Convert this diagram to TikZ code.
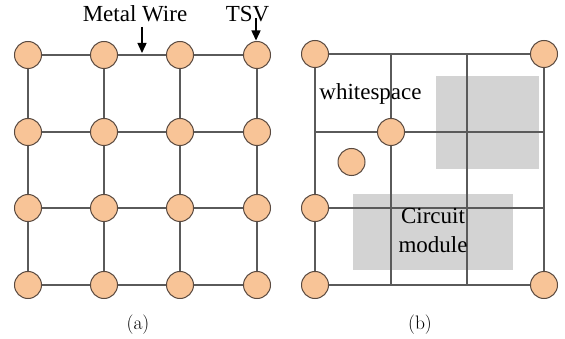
\documentclass[tikz,border=0pt]{standalone}
\usepackage{fontspec}
\newfontfamily\timesfont{Liberation Serif}
\usetikzlibrary{arrows.meta}
\definecolor{tsvfill}{HTML}{F8C497}
\definecolor{tsvedge}{HTML}{5A4A40}
\definecolor{wire}{HTML}{5A5A5A}
\definecolor{module}{HTML}{D3D3D3}
\tikzset{
  tsv/.style={circle, fill=tsvfill, draw=tsvedge, line width=1pt, minimum size=27pt, inner sep=0pt},
  wireline/.style={draw=wire, line width=1.2pt},
  label/.style={font=\timesfont\fontsize{23}{29}\selectfont, inner sep=0pt, anchor=base},
  caption/.style={font=\fontsize{19.5}{22}\selectfont, inner sep=0pt, anchor=base},
  pointer/.style={-{Triangle[length=10pt,width=9pt]}, line width=1.4pt, black},
  block/.style={fill=module, draw=none}
}
\begin{document}
\begin{tikzpicture}[x=1pt, y=-1pt]
\useasboundingbox (0,0) rectangle (565,339);

% ---------- (a) regular TSV grid ----------
\foreach \c/\x in {1/28,2/104,3/180,4/257}{
  \foreach \r/\y in {1/55,2/132,3/208,4/285}{
    \node[tsv] (a\r\c) at (\x,\y) {};
  }
}
\foreach \r in {1,2,3,4}{
  \draw[wireline] (a\r1) -- (a\r2) (a\r2) -- (a\r3) (a\r3) -- (a\r4);
}
\foreach \c in {1,2,3,4}{
  \draw[wireline] (a1\c) -- (a2\c) (a2\c) -- (a3\c) (a3\c) -- (a4\c);
}

\node[label] (mw) at (135,22) {Metal Wire};
\node[label] (tsvlbl) at (247.5,22) {TSV};
\coordinate (mwtop) at (142,27);
\coordinate (mwtip) at (142,53);
\coordinate (tsvtop) at (256,18);
\coordinate (tsvtip) at (256,40.5);
\draw[pointer] (mwtop) -- (mwtip);
\draw[pointer] (tsvtop) -- (tsvtip);

\node[caption] (capa) at (138,329) {(a)};

% ---------- (b) irregular TSV placement ----------
\fill[block] (436,76) rectangle (539,169);
\fill[block] (353,194) rectangle (513,270);

\foreach \c/\x in {1/315,2/391,3/467,4/544}{
  \foreach \r/\y in {1/54,2/132,3/208,4/285}{
    \coordinate (g\r\c) at (\x,\y);
  }
}
\foreach \r in {1,2,3,4}{
  \draw[wireline] (g\r1) -- (g\r4);
}
\foreach \c in {1,2,3,4}{
  \draw[wireline] (g1\c) -- (g4\c);
}

\node[tsv] (b11) at (g11) {};
\node[tsv] (b14) at (g14) {};
\node[tsv] (b22) at (g22) {};
\node[tsv] (b31) at (g31) {};
\node[tsv] (b41) at (g41) {};
\node[tsv] (b44) at (g44) {};
\node[tsv] (bfree) at (351.5,162) {};

\node[label] (ws) at (370.5,100) {whitespace};
% base anchor of a multi-line node sits on its last line
\node[label, align=center] (cm) at (433,253) {Circuit\\module};

\node[caption] (capb) at (420,329) {(b)};
\end{tikzpicture}
\end{document}
